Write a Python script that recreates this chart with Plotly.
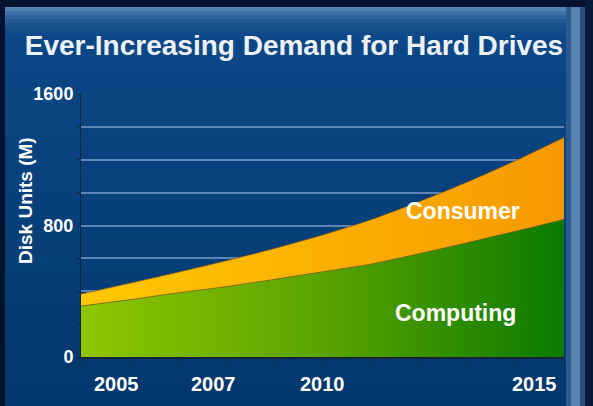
import plotly.graph_objects as go

# Demand for disk units, millions
years = [2005, 2006, 2007, 2008, 2009, 2010, 2011, 2012, 2013, 2014, 2015]
computing = [310, 348, 390, 428, 472, 518, 565, 628, 695, 765, 837]
consumer = [73, 100, 125, 157, 188, 224, 270, 317, 370, 430, 499]

year_labels = ["2005", "2007", "2010", "2015"]
y_tick_values = [0, 200, 400, 600, 800, 1000, 1200, 1400, 1600]
y_tick_labels = ["0", "", "", "", "800", "", "", "", "1600"]

W, H = 593, 406
L, R, T, B = 81, 29, 94, 49
PW, PH = W - L - R, H - T - B

FONT = "Liberation Sans, Arial, sans-serif"


def px(x, y):
    """Convert figure pixels to paper coordinates of the plot area."""
    return (x - L) / PW, (H - B - y) / PH


def rect(x0, y0, x1, y1, color):
    a0, b0 = px(x0, y0)
    a1, b1 = px(x1, y1)
    return dict(type="rect", xref="paper", yref="paper", x0=a0, y0=b1, x1=a1, y1=b0,
                fillcolor=color, line=dict(width=0), layer="below")


def mix(c0, c1, t):
    return "rgb({},{},{})".format(*[round(c0[i] + (c1[i] - c0[i]) * t) for i in range(3)])


def bold(s):
    return f"<b>{s}</b>" if s else ""


totals = [a + b for a, b in zip(computing, consumer)]

fig = go.Figure()
fig.add_trace(go.Scatter(
    x=years, y=computing, mode="lines", name="Computing",
    line=dict(color="rgba(110,90,30,0.7)", width=1, shape="spline", smoothing=0.5),
    fill="tozeroy",
    fillgradient=dict(type="horizontal", colorscale=[[0, "#8ec600"], [0.5, "#5aa400"], [1, "#0b7a00"]]),
))
fig.add_trace(go.Scatter(
    x=years, y=totals, mode="lines", name="Consumer",
    line=dict(color="rgba(120,80,40,0.7)", width=1, shape="spline", smoothing=0.5),
    fill="tonexty",
    fillgradient=dict(type="horizontal", colorscale=[[0, "#ffc800"], [0.5, "#fbb000"], [1, "#f79800"]]),
))

shapes = []
# outer frame and slide panel
shapes.append(rect(0, 0, W, H, "#03122e"))
top_c, bot_c = (12, 72, 136), (3, 56, 110)
n = 24
for i in range(n):
    y0 = 7 + (H - 7) * i / n
    y1 = 7 + (H - 7) * (i + 1) / n + 1
    shapes.append(rect(5, y0, 568, y1, mix(top_c, bot_c, i / (n - 1))))
# light bevel along the panel top
for i, a in enumerate([0.45, 0.32, 0.22, 0.15, 0.1, 0.06, 0.03]):
    shapes.append(rect(5, 7 + i * 4, 568, 11 + i * 4, f"rgba(170,200,235,{a})"))
# right edge bevel
shapes.append(rect(566, 7, 571, H, "#2c5a8e"))
shapes.append(rect(571, 7, 580, H, "#5a83b0"))
shapes.append(rect(580, 7, 585, H, "#2a4e7c"))
shapes.append(rect(585, 0, W, H, "#071a3a"))

annotations = []
# category labels inside the areas
annotations.append(dict(x=2012.9, y=888, xref="x", yref="y", text="<b>Consumer</b>", showarrow=False,
                        font=dict(family=FONT, size=23, color="white")))
annotations.append(dict(x=2012.75, y=265, xref="x", yref="y", text="<b>Computing</b>", showarrow=False,
                        font=dict(family=FONT, size=23, color="white")))
# year labels under the axis
label_shift = {"2005": 35, "2007": 36, "2010": 0, "2015": -30}
for lab in year_labels:
    annotations.append(dict(x=int(lab), y=0, xref="x", yref="y", text=bold(lab),
                            showarrow=False, xanchor="center", yanchor="middle",
                            yshift=-27, xshift=label_shift[lab],
                            font=dict(family=FONT, size=20, color="white")))
# y axis title
ax, ay = px(25, 201)
annotations.append(dict(x=ax, y=ay, xref="paper", yref="paper", text="<b>Disk Units (M)</b>",
                        xanchor="center", yanchor="middle",
                        textangle=-90, showarrow=False, font=dict(family=FONT, size=19, color="white")))

fig.update_layout(
    width=W, height=H,
    margin=dict(l=L, r=R, t=T, b=B, pad=0),
    paper_bgcolor="#03122e",
    plot_bgcolor="rgba(0,0,0,0)",
    showlegend=False,
    title=dict(text="<b>Ever-Increasing Demand for Hard Drives</b>", x=294 / W, xanchor="center",
               y=(H - 45) / H, yanchor="middle",
               font=dict(family=FONT, size=28, color="#eef2f7")),
    shapes=shapes,
    annotations=annotations,
    xaxis=dict(range=[2005, 2015], tickvals=years, ticktext=[""] * len(years),
               ticks="outside", ticklen=4, tickcolor="#16243a", tickwidth=1,
               showgrid=False, zeroline=False, showline=True, linecolor="#16243a", linewidth=1.5),
    yaxis=dict(range=[0, 1600], tickvals=y_tick_values, ticktext=[bold(t) for t in y_tick_labels],
               ticks="outside", ticklen=3, tickcolor="#16243a", tickwidth=1,
               tickfont=dict(family=FONT, size=18, color="white"),
               showgrid=True, gridcolor="rgba(150,180,220,0.6)", gridwidth=1.5,
               zeroline=False, showline=True, linecolor="#16243a", linewidth=1),
)

fig.write_html("out.html")
